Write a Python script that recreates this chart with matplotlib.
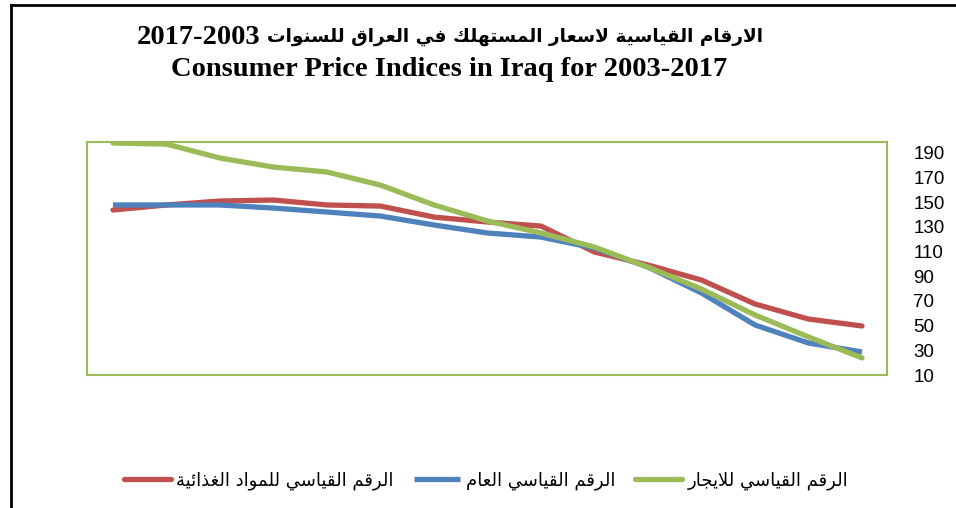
import matplotlib.pyplot as plt
from matplotlib.lines import Line2D

# Datos: indices de precios al consumidor en Irak 2003-2017
years = list(range(2003, 2018))
food = [49.7, 55.3, 67.5, 86.9, 99.1, 109.6, 130.6, 133.9, 137.9, 146.8, 147.7, 151.7, 150.9, 147.7, 143.6]
general = [28.6, 35.9, 50.5, 76.4, 97.4, 112.8, 121.7, 125.0, 131.5, 138.7, 142.0, 145.2, 147.7, 147.7, 147.7]
rent = [23.8, 40.8, 58.6, 79.6, 97.4, 113.6, 125.0, 134.7, 147.7, 163.8, 174.4, 178.4, 185.7, 197.0, 197.9]
y_ticks = list(range(10, 200, 20))

title_ar = "الارقام القياسية لاسعار المستهلك في العراق للسنوات"
title_years = "2017-2003"
title_en = "Consumer Price Indices in Iraq for 2003-2017"
label_food = "الرقم القياسي للمواد الغذائية"
label_general = "الرقم القياسي العام"
label_rent = "الرقم القياسي للايجار"

# formas de presentacion arabes: (aislada, final, inicial, medial)
forms = {
    'ا': (0xFE8D, 0xFE8E, None, None), 'ة': (0xFE93, 0xFE94, None, None),
    'د': (0xFEA9, 0xFEAA, None, None), 'ذ': (0xFEAB, 0xFEAC, None, None),
    'ر': (0xFEAD, 0xFEAE, None, None), 'و': (0xFEED, 0xFEEE, None, None),
    'ت': (0xFE95, 0xFE96, 0xFE97, 0xFE98), 'ج': (0xFE9D, 0xFE9E, 0xFE9F, 0xFEA0),
    'س': (0xFEB1, 0xFEB2, 0xFEB3, 0xFEB4), 'ع': (0xFEC9, 0xFECA, 0xFECB, 0xFECC),
    'غ': (0xFECD, 0xFECE, 0xFECF, 0xFED0), 'ف': (0xFED1, 0xFED2, 0xFED3, 0xFED4),
    'ق': (0xFED5, 0xFED6, 0xFED7, 0xFED8), 'ك': (0xFED9, 0xFEDA, 0xFEDB, 0xFEDC),
    'ل': (0xFEDD, 0xFEDE, 0xFEDF, 0xFEE0), 'م': (0xFEE1, 0xFEE2, 0xFEE3, 0xFEE4),
    'ن': (0xFEE5, 0xFEE6, 0xFEE7, 0xFEE8), 'ه': (0xFEE9, 0xFEEA, 0xFEEB, 0xFEEC),
    'ي': (0xFEF1, 0xFEF2, 0xFEF3, 0xFEF4), 'ئ': (0xFE89, 0xFE8A, 0xFE8B, 0xFE8C),
    'لا': (0xFEFB, 0xFEFC, None, None),
}


def shape(text):
    # une lam+alef y elige la forma de cada letra, luego invierte (RTL)
    chars = []
    i = 0
    while i < len(text):
        if text[i] == 'ل' and i + 1 < len(text) and text[i + 1] == 'ا':
            chars.append('لا')
            i += 2
        else:
            chars.append(text[i])
            i += 1
    out = []
    for k, c in enumerate(chars):
        if c not in forms:
            out.append(c)
            continue
        prev = chars[k - 1] if k > 0 else None
        nxt = chars[k + 1] if k + 1 < len(chars) else None
        j_prev = prev in forms and forms[prev][2] is not None
        j_next = forms[c][2] is not None and nxt in forms
        if j_prev and j_next:
            f = forms[c][3]
        elif j_prev:
            f = forms[c][1]
        elif j_next:
            f = forms[c][2]
        else:
            f = forms[c][0]
        out.append(chr(f))
    return ''.join(out[::-1])


fig = plt.figure(figsize=(9.56, 5.08), dpi=100)
ax = fig.add_axes([87 / 956, 133 / 508, 800 / 956, 233 / 508])

red = '#C0504D'
blue = '#4F81BD'
green = '#9BBB59'
ax.plot(years, food, color=red, linewidth=3.8, solid_capstyle='round', label=shape(label_food))
ax.plot(years, general, color=blue, linewidth=3.8, solid_capstyle='butt', label=shape(label_general))
ax.plot(years, rent, color=green, linewidth=3.8, solid_capstyle='round', label=shape(label_rent))

ax.set_xlim(2017 + 0.486, 2003 - 0.467)   # eje invertido, 2017 a la izquierda
ax.set_ylim(10, 198.7)
ax.set_xticks([])
ax.set_yticks(y_ticks)
ax.yaxis.tick_right()
ax.tick_params(axis='y', length=0, pad=19)
for t in ax.get_yticklabels():
    t.set_family(['Liberation Sans Narrow', 'Liberation Sans'])
    t.set_fontsize(13.5)
for s in ax.spines.values():
    s.set_color(green)
    s.set_linewidth(1.5)

# titulo en dos lineas (años y texto arabe por separado)
fig.text(260 / 956, 1 - 38 / 508, title_years, ha='right', va='center',
         fontsize=20.5, fontweight='bold', family='Liberation Serif')
fig.text(267 / 956, 1 - 37 / 508, shape(title_ar), ha='left', va='center',
         fontsize=13.3, fontweight='bold', family='DejaVu Sans')
fig.text(449 / 956, 1 - 70 / 508, title_en, ha='center', va='center',
         fontsize=20.5, fontweight='bold', family='Liberation Serif')

# leyenda abajo
h, l = ax.get_legend_handles_labels()
fig.legend(h, l, loc='center', bbox_to_anchor=(486 / 956, 1 - 481 / 508), ncol=3, frameon=False,
           prop={'family': ['DejaVu Sans'], 'size': 13}, handlelength=2.6, handletextpad=0.3,
           columnspacing=1.1)

# marco exterior (solo izquierda y arriba)
fig.add_artist(Line2D([11 / 956, 11 / 956], [0, 1 - 5 / 508], color='black', linewidth=2))
fig.add_artist(Line2D([11 / 956, 1], [1 - 5 / 508, 1 - 5 / 508], color='black', linewidth=2))

plt.savefig("out.png", dpi=100)
